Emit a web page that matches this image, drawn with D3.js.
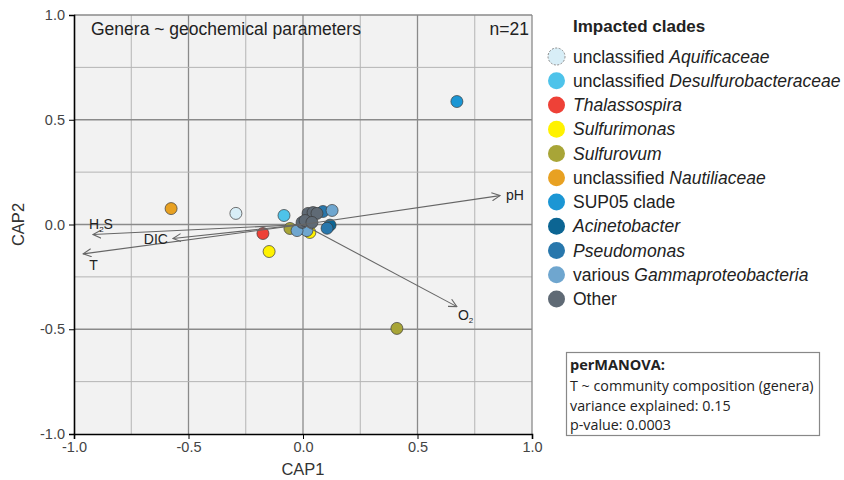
<!DOCTYPE html>
<html><head><meta charset="utf-8">
<script src="https://cdn.jsdelivr.net/npm/d3@7"></script>
<style>body{margin:0;background:#fff;} svg{display:block;font-family:"Liberation Sans",Arial,sans-serif;}</style>
</head><body>
<svg id="c" width="844" height="480"></svg>
<script>
// ---- data ----
const cladeNames = ["Aquificaceae","Desulfurobacteraceae","Thalassospira","Sulfurimonas","Sulfurovum","Nautiliaceae","SUP05 clade","Acinetobacter","Pseudomonas","Gammaproteobacteria","Other"];
const legendPrefix = ["unclassified ","unclassified ","","","","unclassified ","SUP05 clade","","","various ","Other"];
const legendItalic = ["Aquificaceae","Desulfurobacteraceae","Thalassospira","Sulfurimonas","Sulfurovum","Nautiliaceae","","Acinetobacter","Pseudomonas","Gammaproteobacteria",""];
const cladeColors = ["#d8eef7","#4ec3ea","#ee4137","#fff200","#a8a537","#e8a122","#1b96d4","#0c6593","#2877ac","#6fa6cf","#5f6a75"];
// points: clade index, CAP1, CAP2
const pointClade = [0,1,2,3,4,5,6,3,4,5,9,9,9,7,8,8,9,10,10,10,10,10,10];
const pointCAP1  = [-0.293,-0.083,-0.175,-0.148,0.410,-0.576,0.672,0.030,-0.057,-0.002,0.000,0.017,-0.026,0.118,0.105,0.087,0.127,0.022,0.044,0.061,-0.004,0.009,0.039];
const pointCAP2  = [0.053,0.043,-0.043,-0.129,-0.496,0.076,0.587,-0.038,-0.019,-0.010,-0.019,-0.029,-0.029,-0.003,-0.018,0.062,0.067,0.053,0.057,0.053,0.010,0.019,0.010];
const vectorNames = ["pH","O","H","DIC","T"];
const vectorSub = ["","2","2","",""];
const vectorTail = ["","","S","",""];
const vectorCAP1 = [0.860,0.672,-0.917,-0.568,-0.960];
const vectorCAP2 = [0.138,-0.392,-0.048,-0.067,-0.140];
const axisTicks = [-1.0,-0.5,0.0,0.5,1.0];
const gridTicks = [-0.75,-0.5,-0.25,0,0.25,0.5,0.75];
const statLines = ["T ~ community composition (genera)","variance explained: 0.15","p-value: 0.0003"];

// ---- drawing ----
const svg = d3.select("#c");
const x = d3.scaleLinear().domain([-1,1]).range([74,532]);
const y = d3.scaleLinear().domain([-1,1]).range([434,15]);

svg.append("rect").attr("x",x(-1)).attr("y",y(1)).attr("width",x(1)-x(-1)).attr("height",y(-1)-y(1)).attr("fill","#f2f2f2");

// grid
const isMajor = d => Math.abs(d%0.5)<1e-9;
const g = svg.append("g");
g.selectAll(".gv").data(gridTicks).join("line")
  .attr("x1",d=>x(d)).attr("x2",d=>x(d)).attr("y1",y(1)).attr("y2",y(-1))
  .attr("stroke",d=>isMajor(d)?"#8a8a8a":"#b4b4b4").attr("stroke-width",d=>isMajor(d)?1.3:1);
g.selectAll(".gh").data(gridTicks).join("line")
  .attr("y1",d=>y(d)).attr("y2",d=>y(d)).attr("x1",x(-1)).attr("x2",x(1))
  .attr("stroke",d=>isMajor(d)?"#8a8a8a":"#b4b4b4").attr("stroke-width",d=>isMajor(d)?1.3:1);
svg.append("line").attr("x1",x(-1)).attr("x2",x(1)).attr("y1",y(1)).attr("y2",y(1)).attr("stroke","#8a8a8a").attr("stroke-width",1.3);
svg.append("line").attr("x1",x(1)).attr("x2",x(1)).attr("y1",y(1)).attr("y2",y(-1)).attr("stroke","#8a8a8a").attr("stroke-width",1.3);

// axes
const fmt = d => d3.format(".1f")(d).replace("\u2212","-");
const xa = svg.append("g").attr("transform",`translate(0,${y(-1)})`)
  .call(d3.axisBottom(x).tickValues(axisTicks).tickFormat(fmt).tickSize(5).tickPadding(3));
const ya = svg.append("g").attr("transform",`translate(${x(-1)},0)`)
  .call(d3.axisLeft(y).tickValues(axisTicks).tickFormat(fmt).tickSize(5).tickPadding(4));
[xa,ya].forEach(a=>{
  a.select(".domain").attr("stroke","#000").attr("stroke-width",1.6);
  a.selectAll(".tick line").attr("stroke","#000").attr("stroke-width",1);
  a.selectAll(".tick text").attr("font-size",14.5).attr("fill","#444").attr("font-family","Liberation Sans, Arial, sans-serif");
});

svg.append("text").attr("x",x(0)).attr("y",475).attr("text-anchor","middle").attr("font-size",16.5).attr("fill","#333").text("CAP1");
svg.append("text").attr("transform",`translate(24,${y(0)}) rotate(-90)`).attr("text-anchor","middle").attr("font-size",16.5).attr("fill","#333").text("CAP2");

// in-plot labels
svg.append("text").attr("x",91).attr("y",35).attr("font-size",17.5).attr("fill","#222").text("Genera ~ geochemical parameters");
svg.append("text").attr("x",529).attr("y",35).attr("text-anchor","end").attr("font-size",17.5).attr("fill","#222").text("n=21");

// points
const pts = pointClade.map((c,i)=>({c, x:pointCAP1[i], y:pointCAP2[i]}));
svg.append("g").selectAll("circle").data(pts).join("circle")
  .attr("cx",d=>x(d.x)).attr("cy",d=>y(d.y)).attr("r",6)
  .attr("fill",d=>cladeColors[d.c]).attr("stroke","#3a3a3a").attr("stroke-width",0.7);

// arrows
svg.append("defs").append("marker").attr("id","arr").attr("viewBox","0 0 10 10").attr("refX",9).attr("refY",5)
  .attr("markerWidth",9).attr("markerHeight",9).attr("markerUnits","userSpaceOnUse").attr("orient","auto")
  .append("path").attr("d","M0,0.5 L9,5 L0,9.5").attr("fill","none").attr("stroke","#666").attr("stroke-width",1.2);
const vecs = vectorNames.map((n,i)=>({n, sub:vectorSub[i], tail:vectorTail[i], x:vectorCAP1[i], y:vectorCAP2[i]}));
svg.append("g").selectAll("line").data(vecs).join("line")
  .attr("x1",x(0)).attr("y1",y(0)).attr("x2",d=>x(d.x)).attr("y2",d=>y(d.y))
  .attr("stroke","#666").attr("stroke-width",1.1).attr("marker-end","url(#arr)");
const labOff = {pH:[6,4,"start"], O:[1,13,"start"], H:[-4,-6,"start"], DIC:[-5,5,"end"], T:[6,16,"start"]};
const vl = svg.append("g").selectAll("text").data(vecs).join("text")
  .attr("x",d=>x(d.x)+labOff[d.n][0]).attr("y",d=>y(d.y)+labOff[d.n][1])
  .attr("text-anchor",d=>labOff[d.n][2]).attr("font-size",14).attr("fill","#222");
vl.append("tspan").text(d=>d.n);
vl.filter(d=>d.sub).append("tspan").attr("font-size",8).attr("dy",3).text(d=>d.sub);
vl.filter(d=>d.tail).append("tspan").attr("dy",-3).text(d=>d.tail);

// legend
const lg = svg.append("g");
lg.append("text").attr("x",573).attr("y",32).attr("font-size",17).attr("font-weight","bold").attr("fill","#222").text("Impacted clades");
const items = lg.selectAll("g.it").data(cladeNames).join("g").attr("transform",(d,i)=>`translate(0,${56.5+i*24.25})`);
items.append("circle").attr("cx",556.5).attr("cy",0).attr("r",8.5)
  .attr("fill",(d,i)=>cladeColors[i]).attr("stroke",(d,i)=>i===0?"#888":"none").attr("stroke-width",1).attr("stroke-dasharray",(d,i)=>i===0?"2,1.5":null);
const it = items.append("text").attr("x",573).attr("y",6).attr("font-size",17.5).attr("fill","#222");
it.append("tspan").text((d,i)=>legendPrefix[i]);
it.append("tspan").attr("font-style","italic").text((d,i)=>legendItalic[i]);

// stats box
const sb = svg.append("g");
sb.append("rect").attr("x",566.5).attr("y",352.5).attr("width",253).attr("height",83).attr("fill","#fff").attr("stroke","#888").attr("stroke-width",1.2);
sb.append("text").attr("x",570).attr("y",370).attr("font-family","Open Sans, sans-serif").attr("font-weight","bold").attr("font-size",14.5).attr("fill","#222").text("perMANOVA:");
sb.selectAll("text.l").data(statLines).join("text").attr("class","l")
  .attr("x",570).attr("y",(d,i)=>391+i*19.5).attr("font-family","Open Sans, sans-serif").attr("font-size",14.3).attr("fill","#222").text(d=>d);
</script>
</body></html>
